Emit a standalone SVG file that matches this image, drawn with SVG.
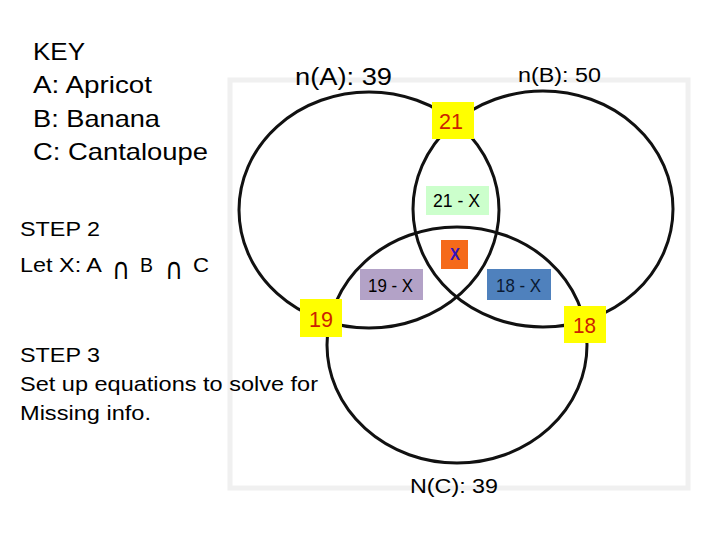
<svg xmlns="http://www.w3.org/2000/svg" width="720" height="540" viewBox="0 0 720 540">
<style>
text{font-family:"Liberation Sans",Arial,sans-serif;fill:#000}
.circ{fill:none;stroke:#111;stroke-width:3}
.yel{fill:#ffff00}
.num{fill:#cc2200;font-size:22px;text-anchor:start}
.lab{font-size:19px}
.side{font-size:21px}
.sym{font-family:"DejaVu Sans",sans-serif;font-size:30px;font-weight:normal}
</style>
<rect x="0" y="0" width="720" height="540" fill="#fff"/>
<rect id="frame" x="230" y="80" width="458" height="408" fill="#fff" stroke="#f0f0f0" stroke-width="5"/>
<g id="key">
<text x="33" y="60" font-size="24" textLength="52" lengthAdjust="spacingAndGlyphs">KEY</text>
<text x="33" y="93" font-size="24" textLength="119" lengthAdjust="spacingAndGlyphs">A: Apricot</text>
<text x="33" y="127" font-size="24" textLength="127" lengthAdjust="spacingAndGlyphs">B: Banana</text>
<text x="33" y="160" font-size="24" textLength="175" lengthAdjust="spacingAndGlyphs">C: Cantaloupe</text>
</g>
<g id="step2">
<text x="20" y="236" class="side" textLength="80" lengthAdjust="spacingAndGlyphs">STEP 2</text>
<text x="20" y="272" class="side" textLength="82" lengthAdjust="spacingAndGlyphs">Let X: A</text>
<text x="112" y="279" class="sym" textLength="18" lengthAdjust="spacingAndGlyphs">∩</text>
<text x="140" y="272" class="side" textLength="13" lengthAdjust="spacingAndGlyphs">B</text>
<text x="165" y="279" class="sym" textLength="18" lengthAdjust="spacingAndGlyphs">∩</text>
<text x="193" y="272" class="side" textLength="16" lengthAdjust="spacingAndGlyphs">C</text>
</g>
<g id="step3">
<text x="20" y="362" class="side" textLength="80" lengthAdjust="spacingAndGlyphs">STEP 3</text>
<text x="20" y="391" class="side" textLength="298" lengthAdjust="spacingAndGlyphs">Set up equations to solve for</text>
<text x="20" y="420" class="side" textLength="131" lengthAdjust="spacingAndGlyphs">Missing info.</text>
</g>
<g id="connectors"></g>
<g id="circleA"><ellipse class="circ" cx="369" cy="210" rx="130" ry="118"/></g>
<g id="circleB"><ellipse class="circ" cx="543" cy="209" rx="130" ry="118"/></g>
<g id="circleC"><ellipse class="circ" cx="457" cy="345" rx="130" ry="118"/></g>
<g id="titleA"><text x="295" y="85" font-size="23" textLength="97" lengthAdjust="spacingAndGlyphs">n(A): 39</text></g>
<g id="titleB"><text x="518" y="82" font-size="20" textLength="83" lengthAdjust="spacingAndGlyphs">n(B): 50</text></g>
<g id="titleC"><text x="410" y="493" font-size="20" textLength="88" lengthAdjust="spacingAndGlyphs">N(C): 39</text></g>
<g id="onlyAB"><rect class="yel" x="432" y="102" width="42" height="37"/><text class="num" x="439" y="129" font-size="20" textLength="24" lengthAdjust="spacingAndGlyphs">21</text></g>
<g id="AB"><rect x="426" y="186" width="63" height="29" fill="#ccffcc"/><text class="lab" x="433" y="207" textLength="47" lengthAdjust="spacingAndGlyphs">21 - X</text></g>
<g id="ABC"><rect x="441" y="240" width="27" height="29" fill="#f56a1a"/><text x="450" y="260" font-size="17" font-weight="bold" style="fill:#3311bb" textLength="10" lengthAdjust="spacingAndGlyphs">X</text></g>
<g id="AC"><rect x="360" y="269" width="63" height="31" fill="#b3a2c7"/><text class="lab" x="368" y="292" textLength="45" lengthAdjust="spacingAndGlyphs">19 - X</text></g>
<g id="BC"><rect x="487" y="269" width="64" height="31" fill="#4f81bd"/><text class="lab" x="496" y="292" style="fill:#0a1a33" textLength="45" lengthAdjust="spacingAndGlyphs">18 - X</text></g>
<g id="onlyAC"><rect class="yel" x="300" y="299" width="42" height="38"/><text class="num" x="309" y="327" textLength="24" lengthAdjust="spacingAndGlyphs">19</text></g>
<g id="onlyBC"><rect class="yel" x="564" y="306" width="42" height="37"/><text class="num" x="573" y="333" font-size="21" textLength="23" lengthAdjust="spacingAndGlyphs">18</text></g>
</svg>
